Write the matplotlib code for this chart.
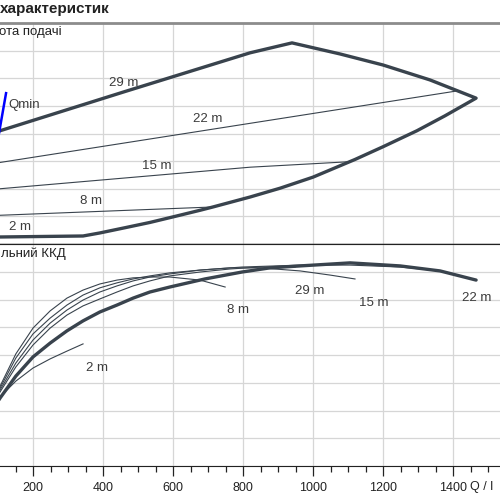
import matplotlib
matplotlib.use('Agg')
import matplotlib.pyplot as plt
from matplotlib.ticker import MultipleLocator, FuncFormatter

plt.rcParams['font.family'] = ['Liberation Sans', 'DejaVu Sans']

# --- Верхня панель: висота подачі (H, м) ---
env_q = [90, 106, 463, 820, 940, 1077, 1200, 1334, 1466, 1377, 1297, 1200, 1120, 1000, 906, 820,
         714, 677, 606, 534, 463, 391, 343, 106, 90]
env_h = [20.2, 20.5, 27.6, 34.6, 36.4, 34.4, 32.4, 29.7, 26.4, 23.2, 20.5, 17.6, 15.3, 12.1, 10.1, 8.5,
         6.7, 6.1, 5.0, 3.9, 2.95, 2.0, 1.45, 1.27, 1.27]

line22_q = [90, 1411]
line22_h = [14.6, 27.7]
line15_q = [90, 106, 820, 1106]
line15_h = [9.8, 10.0, 13.9, 14.9]
line8_q = [90, 106, 714]
line8_h = [5.15, 5.2, 6.7]

qmin_q = [98, 123]
qmin_h = [18.3, 27.3]

top_labels = ['29 m', '22 m', '15 m', '8 m', '2 m']
top_label_q = [460, 700, 554, 366, 163]
top_label_h = [29.1, 22.6, 14.1, 7.8, 3.1]

# --- Нижня панель: загальний ККД (%) ---
eta_max_q = [97, 106, 151, 200, 249, 297, 343, 391, 440, 486, 534, 591, 691, 797, 877, 963, 1106, 1249, 1363, 1466]
eta_max = [22.7, 24.5, 32.4, 39.3, 44.3, 48.7, 52.3, 55.5, 58.0, 60.5, 62.7, 64.5, 67.4, 69.9, 71.4, 72.1,
           73.2, 72.1, 70.3, 67.0]

eta29_q = [97, 106, 151, 200, 249, 297, 343, 391, 440, 486, 534, 591, 677, 763, 849, 949]
eta29 = [24.5, 26.7, 35.7, 43.6, 49.7, 54.4, 57.7, 60.2, 62.7, 64.9, 66.7, 68.5, 69.9, 71.0, 71.7, 71.7]
eta22_q = [97, 106, 151, 200, 249, 297, 343, 391, 440, 486, 534, 591, 677, 797, 963, 1106, 1249, 1363]
eta22 = [25.2, 27.4, 37.1, 45.4, 51.5, 56.2, 59.8, 62.7, 64.9, 66.7, 68.1, 69.2, 70.6, 71.7, 72.4, 72.4,
         71.7, 70.3]
eta15_q = [97, 106, 151, 200, 249, 297, 343, 391, 440, 486, 534, 591, 677, 763, 849, 963, 1049, 1120]
eta15 = [25.9, 28.1, 38.9, 47.6, 53.3, 58.0, 61.6, 64.2, 66.0, 67.4, 68.5, 69.6, 70.6, 71.4, 71.4, 70.3,
         68.8, 67.4]
eta8_q = [97, 106, 151, 200, 249, 297, 343, 391, 440, 486, 534, 591, 677, 749]
eta8 = [26.7, 28.8, 40.4, 49.7, 55.9, 60.5, 63.4, 65.6, 67.0, 67.8, 68.1, 68.1, 67.0, 64.5]
eta2_q = [97, 106, 151, 200, 249, 297, 343]
eta2 = [23.4, 24.9, 30.6, 35.3, 38.6, 41.4, 44.0]

bot_labels = ['29 m', '15 m', '22 m', '8 m', '2 m']
bot_label_q = [991, 1174, 1469, 786, 383]
bot_label_eta = [63.1, 58.7, 60.5, 56.2, 35.3]

CURVE = '#39434d'
TXT = '#3c3c3c'
GRID = '#d6d6d6'

fig = plt.figure(figsize=(5, 5), dpi=100)

# осі ширші за полотно - картинка обрізана як в оригіналі
ax_h = fig.add_axes([-0.074, 0.512, 1.12, 0.442])
ax_e = fig.add_axes([-0.074, 0.068, 1.12, 0.444])

for ax in (ax_h, ax_e):
    ax.set_xlim(0, 1600)
    ax.xaxis.set_major_locator(MultipleLocator(200))
    ax.xaxis.set_minor_locator(MultipleLocator(50))
    ax.grid(True, which='major', color=GRID, lw=0.9)
    ax.set_axisbelow(True)
    ax.tick_params(axis='y', left=False, labelleft=False)
    ax.spines['left'].set_visible(False)
    ax.spines['right'].set_visible(False)

ax_h.set_ylim(0, 40)
ax_h.yaxis.set_major_locator(MultipleLocator(5))
ax_h.tick_params(axis='x', which='both', bottom=False, labelbottom=False)
ax_h.spines['top'].set_color('#8c8c8c')
ax_h.spines['top'].set_linewidth(2)
ax_h.spines['bottom'].set_color('#222222')
ax_h.spines['bottom'].set_linewidth(1)

ax_h.plot(env_q, env_h, color=CURVE, lw=2.4, solid_joinstyle='round', zorder=3)
ax_h.plot(line22_q, line22_h, color=CURVE, lw=0.8, zorder=2)
ax_h.plot(line15_q, line15_h, color=CURVE, lw=0.8, zorder=2)
ax_h.plot(line8_q, line8_h, color=CURVE, lw=0.8, zorder=2)
ax_h.plot(qmin_q, qmin_h, color='#0000ff', lw=1.8, zorder=4)
ax_h.text(129, 25.2, 'Qmin', color=TXT, fontsize=9.5, ha='left', va='center')
for lab, q, h in zip(top_labels, top_label_q, top_label_h):
    ax_h.text(q, h, lab, color=TXT, fontsize=9.5, ha='center', va='center')

ax_e.set_ylim(0, 80)
ax_e.yaxis.set_major_locator(MultipleLocator(10))
ax_e.spines['top'].set_color('#222222')
ax_e.spines['bottom'].set_color('#222222')
ax_e.tick_params(axis='x', which='major', length=7, width=0.9, color='#222222',
                 labelsize=9, labelcolor='#222222', pad=4.5)
ax_e.tick_params(axis='x', which='minor', length=4.5, width=0.9, color='#222222')
ax_e.xaxis.set_major_formatter(FuncFormatter(lambda v, p: '' if v in (0, 1600) else f'{v:.0f}'))

for q, e in [(eta29_q, eta29), (eta22_q, eta22), (eta15_q, eta15), (eta8_q, eta8), (eta2_q, eta2)]:
    ax_e.plot(q, e, color=CURVE, lw=0.8, zorder=2)
ax_e.plot(eta_max_q, eta_max, color=CURVE, lw=2.4, solid_capstyle='round', zorder=3)
for lab, q, e in zip(bot_labels, bot_label_q, bot_label_eta):
    ax_e.text(q, e, lab, color=TXT, fontsize=9.5, ha='center', va='center')

# підписи - видимі частини, як на обрізаному оригіналі
fig.text(0.22, 0.982, 'характеристик', fontsize=11, fontweight='bold',
         color='#222222', ha='right', va='center')
fig.text(0.124, 0.936, 'ота подачі', fontsize=9.5, color='#222222', ha='right', va='center')
fig.text(0.131, 0.492, 'льний ККД', fontsize=9.5, color='#222222', ha='right', va='center')
fig.text(0.94, 0.026, 'Q / l', fontsize=9, color='#222222', ha='left', va='center')

fig.savefig('out.png', dpi=100)
